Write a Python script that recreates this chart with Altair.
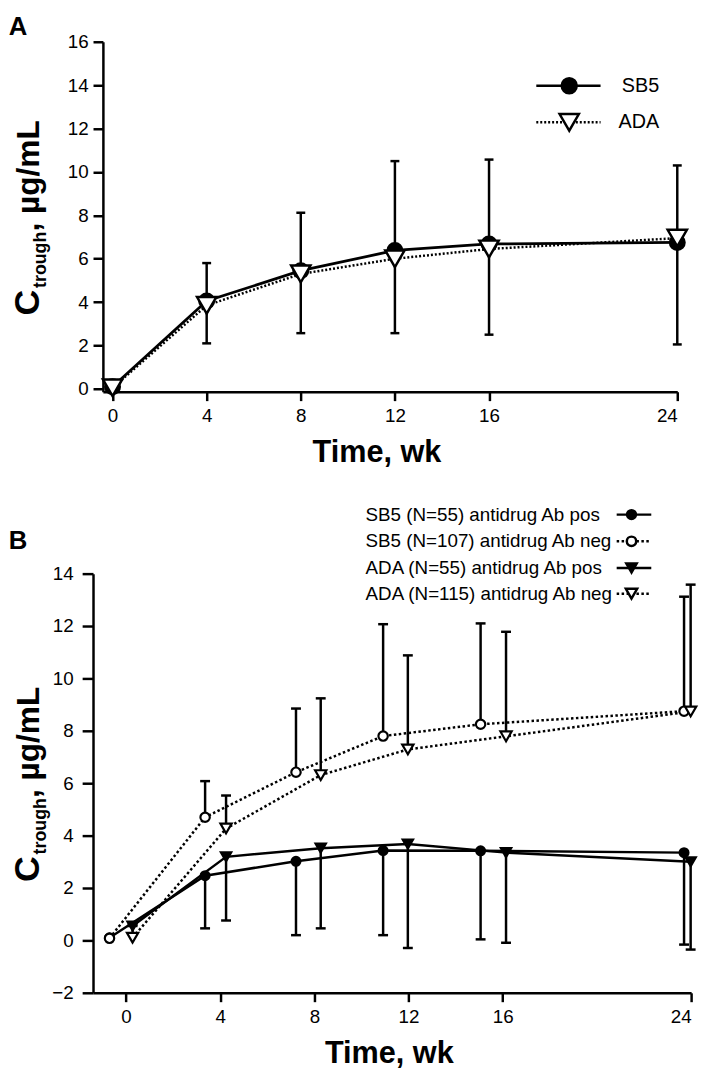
import altair as alt
import pandas as pd

FONT = "Liberation Sans"

# ---------------- Panel A data ----------------
weeks_a = [0, 4, 8, 12, 16, 24]
sb5_a = [0.1, 4.05, 5.45, 6.38, 6.68, 6.75]
ada_a = [0.05, 3.85, 5.3, 6.0, 6.45, 6.95]
err_low_a = [0.1, 2.1, 2.57, 2.57, 2.5, 2.05]
err_high_a = [0.1, 5.8, 8.12, 10.5, 10.57, 10.3]
ticks_x = [0, 4, 8, 12, 16, 24]
ticks_y_a = [0, 2, 4, 6, 8, 10, 12, 14, 16]
legend_a = ["SB5", "ADA"]

# ---------------- Panel B data ----------------
pos_sb5_b = [-0.7, 3.36, 7.22, 10.92, 15.06, 23.7]
pos_ada_b = [0.28, 4.25, 8.27, 11.97, 16.14, 23.98]
sb5_pos = [0.1, 2.47, 3.02, 3.43, 3.42, 3.35]
sb5_pos_low = [0.1, 0.46, 0.2, 0.2, 0.04, -0.16]
sb5_neg = [0.08, 4.7, 6.42, 7.8, 8.25, 8.75]
sb5_neg_high = [0.08, 6.08, 8.85, 12.07, 12.1, 13.12]
ada_pos = [0.55, 3.19, 3.52, 3.68, 3.35, 3.0]
ada_pos_low = [0.55, 0.76, 0.46, -0.29, -0.09, -0.35]
ada_neg = [0.1, 4.27, 6.31, 7.29, 7.79, 8.74]
ada_neg_high = [0.6, 5.53, 9.24, 10.88, 11.78, 13.58]
ticks_y_b = [-2, 0, 2, 4, 6, 8, 10, 12, 14]
legend_b = [
    "SB5 (N=55) antidrug Ab pos",
    "SB5 (N=107) antidrug Ab neg",
    "ADA (N=55) antidrug Ab pos",
    "ADA (N=115) antidrug Ab neg",
]

one = pd.DataFrame({"k": [0]})


def note(text, x, y, size, bold=False, align="left", baseline="alphabetic", angle=0):
    kw = dict(text=text, font=FONT, fontSize=size, fontWeight="bold" if bold else "normal",
              align=align, baseline=baseline, color="black")
    if angle:
        kw["angle"] = angle
    return alt.Chart(one).mark_text(**kw).encode(x=alt.value(x), y=alt.value(y))


def legend_item(x1, x2, xm, y, dash, shape, filled, size):
    rule_kw = dict(color="black", strokeWidth=2.5)
    if dash:
        rule_kw["strokeDash"] = dash
    line = alt.Chart(one).mark_rule(**rule_kw).encode(
        x=alt.value(x1), x2=alt.value(x2), y=alt.value(y))
    pt = alt.Chart(one).mark_point(shape=shape, filled=True, fill="black" if filled else "white",
                                   stroke="black", strokeWidth=2.5, size=size, opacity=1).encode(
        x=alt.value(xm), y=alt.value(y))
    return [line, pt]


def ytitle(xb, y_start):
    # C (large) + subscript "trough" + ", µg/mL", read bottom-to-top
    c_size, big, small = 36, 32, 18
    y_sub = y_start - 0.722 * c_size - 2
    y_rest = y_sub - 3.166 * small
    return [
        note("C", xb, y_start, c_size, True, angle=270),
        note("trough", xb + 7, y_sub, small, True, angle=270),
        note(", µg/mL", xb, y_rest, big, True, angle=270),
    ]


def axis(values, tick, lpad, offset=0):
    return alt.Axis(values=values, title=None, grid=False, domainColor="black", domainWidth=2.5,
                    tickColor="black", tickWidth=2.5, tickSize=tick, labelFont=FONT, labelFontSize=19,
                    labelColor="black", labelPadding=lpad, offset=offset)


# ================= Panel A =================
WA, HA = 591, 354
xA = alt.Scale(domain=[-0.41, 24], range=[10, WA], nice=False, zero=False)
yA = alt.Scale(domain=[-0.13, 16], nice=False, zero=False)
axXA = axis(ticks_x, 9, 6)
axYA = axis(ticks_y_a, 10, 5, offset=-10)

dA_sb5 = pd.DataFrame({"week": weeks_a, "value": sb5_a, "lo": err_low_a, "hi": err_high_a})
dA_ada = pd.DataFrame({"week": weeks_a, "value": ada_a})

baseA = alt.Chart(dA_sb5)
errA = baseA.mark_rule(color="black", strokeWidth=2.5).encode(
    x=alt.X("week:Q", scale=xA, axis=axXA), y=alt.Y("lo:Q", scale=yA, axis=axYA), y2="hi:Q")
capLoA = baseA.mark_tick(orient="horizontal", color="black", thickness=2.5, size=9, opacity=1).encode(
    x=alt.X("week:Q", scale=xA), y=alt.Y("lo:Q", scale=yA))
capHiA = baseA.mark_tick(orient="horizontal", color="black", thickness=2.5, size=9, opacity=1).encode(
    x=alt.X("week:Q", scale=xA), y=alt.Y("hi:Q", scale=yA))
lineAdaA = alt.Chart(dA_ada).mark_line(color="black", strokeWidth=2.5, strokeDash=[2, 2]).encode(
    x=alt.X("week:Q", scale=xA), y=alt.Y("value:Q", scale=yA))
lineSb5A = baseA.mark_line(color="black", strokeWidth=2.8).encode(
    x=alt.X("week:Q", scale=xA), y=alt.Y("value:Q", scale=yA))
ptSb5A = baseA.mark_point(shape="circle", filled=True, fill="black", stroke="black", size=230,
                          opacity=1).encode(x=alt.X("week:Q", scale=xA), y=alt.Y("value:Q", scale=yA))
ptAdaA = alt.Chart(dA_ada).mark_point(shape="triangle-down", filled=True, fill="white", stroke="black",
                                      strokeWidth=2.5, size=380, opacity=1).encode(
    x=alt.X("week:Q", scale=xA), y=alt.Y("value:Q", scale=yA))

annA = [note("A", -85.3, -6.5, 26, True),
        note("Time, wk", 287.2, 416.5, 31, True, align="center", baseline="middle")]
annA += ytitle(-54.3, 277)
annA += legend_item(448.4, 513.4, 481.7, 44.5, None, "circle", True, 230)
annA += legend_item(448.4, 513.4, 481.7, 81.5, [2, 2], "triangle-down", False, 380)
annA += [note(legend_a[0], 572.7, 44.5, 20, align="right", baseline="middle"),
         note(legend_a[1], 572.7, 81.5, 20, align="right", baseline="middle")]

panelA = alt.layer(errA, capLoA, capHiA, lineAdaA, lineSb5A, ptSb5A, ptAdaA, *annA).properties(
    width=WA, height=HA)

# ================= Panel B =================
WB, HB = 605, 424
xB = alt.Scale(domain=[-1.4, 24], nice=False, zero=False)
yB = alt.Scale(domain=[-2, 14], nice=False, zero=False)
axXB = axis(ticks_x, 9, 6)
axYB = axis(ticks_y_b, 11, 9)

dSP = pd.DataFrame({"week": pos_sb5_b, "value": sb5_pos, "e": sb5_pos_low})
dSN = pd.DataFrame({"week": pos_sb5_b, "value": sb5_neg, "e": sb5_neg_high})
dAP = pd.DataFrame({"week": pos_ada_b, "value": ada_pos, "e": ada_pos_low})
dAN = pd.DataFrame({"week": pos_ada_b, "value": ada_neg, "e": ada_neg_high})


def series_b(df, dash, shape, filled, size, first=False):
    if first:
        X = alt.X("week:Q", scale=xB, axis=axXB)
        Y = alt.Y("value:Q", scale=yB, axis=axYB)
    else:
        X = alt.X("week:Q", scale=xB)
        Y = alt.Y("value:Q", scale=yB)
    b = alt.Chart(df)
    err = b.mark_rule(color="black", strokeWidth=2.5).encode(x=X, y=Y, y2="e:Q")
    cap = b.mark_tick(orient="horizontal", color="black", thickness=2.5, size=10, opacity=1).encode(
        x=alt.X("week:Q", scale=xB), y=alt.Y("e:Q", scale=yB))
    lk = dict(color="black", strokeWidth=2.5)
    if dash:
        lk["strokeDash"] = dash
    ln = b.mark_line(**lk).encode(x=alt.X("week:Q", scale=xB), y=alt.Y("value:Q", scale=yB))
    pt = b.mark_point(shape=shape, filled=True, fill="black" if filled else "white", stroke="black",
                      strokeWidth=2.2, size=size, opacity=1).encode(
        x=alt.X("week:Q", scale=xB), y=alt.Y("value:Q", scale=yB))
    return [err, cap], [ln], [pt]


parts = [
    series_b(dSP, None, "circle", True, 80, first=True),
    series_b(dAP, None, "triangle-down", True, 110),
    series_b(dSN, [2.5, 2.5], "circle", False, 90),
    series_b(dAN, [2.5, 2.5], "triangle-down", False, 130),
]
errs = [m for p in parts for m in p[0]]
lines = [m for p in parts for m in p[1]]
pts = [m for p in parts for m in p[2]]

annB = [note("B", -85.3, -24.7, 26, True),
        note("Time, wk", 299.7, 486.3, 31, True, align="center", baseline="middle")]
annB += ytitle(-54.3, 312)
rows_y = [-59.7, -32.7, -5.7, 20.3]
styles = [(None, "circle", True, 80), ([2.5, 2.5], "circle", False, 90),
          (None, "triangle-down", True, 110), ([2.5, 2.5], "triangle-down", False, 130)]
for lab, yy, (dash, shp, fil, sz) in zip(legend_b, rows_y, styles):
    annB += legend_item(529.7, 564.7, 544.7, yy, dash, shp, fil, sz)
    annB.append(note(lab, 275.7, yy, 19, baseline="middle"))

panelB = alt.layer(*errs, *lines, *pts, *annB).properties(width=WB, height=HB)

chart = alt.vconcat(panelA, panelB, spacing=36).properties(
    padding={"left": 0, "top": 0, "right": 0, "bottom": 0}, background="white"
).configure(padding=0).configure_view(stroke=None)

chart.save("out.html", embed_options={"renderer": "svg", "actions": False})
